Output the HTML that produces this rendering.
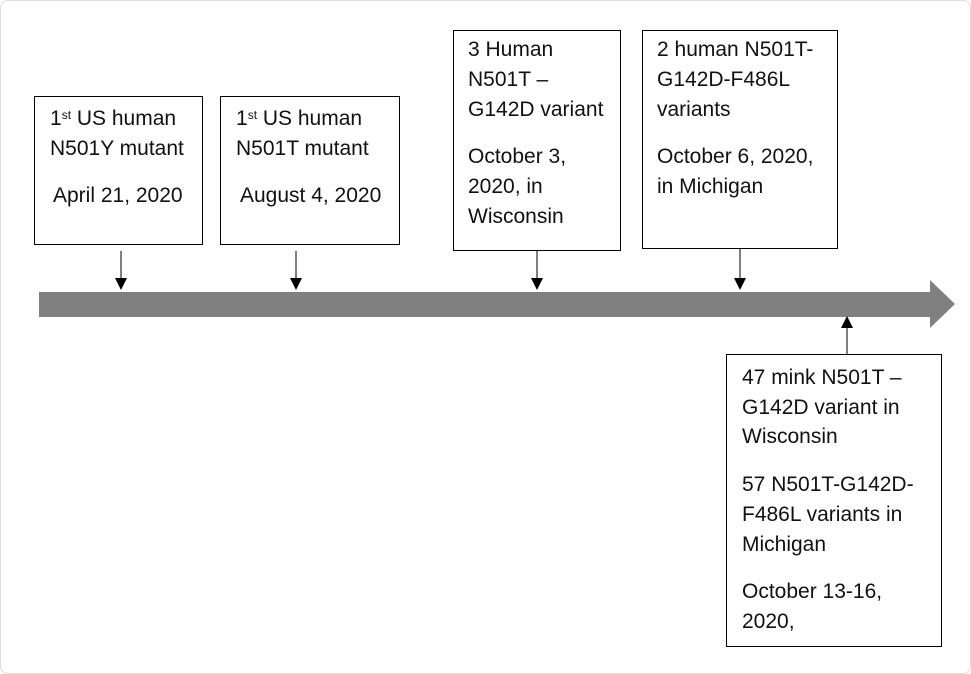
<!DOCTYPE html>
<html><head><style>
body{margin:0;width:971px;height:674px;background:#fff;position:relative;overflow:hidden;font-family:"Liberation Sans",sans-serif;}
.frame{position:absolute;left:0;top:0;width:969px;height:672px;border:1px solid #ddd;border-radius:8px;}
.box{position:absolute;border:1.5px solid #000;box-sizing:border-box;background:#fff;}
.t{position:absolute;font-size:21px;color:#111;white-space:nowrap;line-height:22px;}
sup{font-size:12px;vertical-align:top;position:relative;top:-4px;}
</style></head><body>
<div class="frame"></div>
<svg width="971" height="674" style="position:absolute;left:0;top:0">
<polygon points="39,292 930,292 930,280 955,304 930,328 930,317 39,317" fill="#808080"/>
<g stroke="#000" stroke-width="1">
<line x1="121" y1="251" x2="121" y2="280"/><line x1="296" y1="251" x2="296" y2="280"/>
<line x1="537" y1="250" x2="537" y2="280"/><line x1="740" y1="248" x2="740" y2="280"/>
<line x1="847" y1="354" x2="847" y2="326"/>
</g>
<g fill="#000">
<path d="M115,278 L127,278 L121,290z"/><path d="M290,278 L302,278 L296,290z"/>
<path d="M531,278 L543,278 L537,290z"/><path d="M734,278 L746,278 L740,290z"/>
<path d="M841,328 L853,328 L847,316z"/>
</g>
</svg>
<div class="box" style="left:34px;top:96px;width:169px;height:149px"></div>
<div class="t" style="left:50px;top:108px">1<sup>st</sup> US human</div>
<div class="t" style="left:50px;top:138px">N501Y mutant</div>
<div class="t" style="left:53px;top:185px">April 21, 2020</div>
<div class="box" style="left:220px;top:96px;width:180px;height:149px"></div>
<div class="t" style="left:236px;top:108px">1<sup>st</sup> US human</div>
<div class="t" style="left:236px;top:138px">N501T mutant</div>
<div class="t" style="left:240px;top:185px">August 4, 2020</div>
<div class="box" style="left:453px;top:30px;width:168px;height:221px"></div>
<div class="t" style="left:468px;top:39px">3 Human</div>
<div class="t" style="left:468px;top:69px">N501T –</div>
<div class="t" style="left:468px;top:99px">G142D variant</div>
<div class="t" style="left:468px;top:146px">October 3,</div>
<div class="t" style="left:468px;top:176px">2020, in</div>
<div class="t" style="left:468px;top:206px">Wisconsin</div>
<div class="box" style="left:642px;top:30px;width:196px;height:219px"></div>
<div class="t" style="left:657px;top:39px">2 human N501T-</div>
<div class="t" style="left:657px;top:69px">G142D-F486L</div>
<div class="t" style="left:657px;top:99px">variants</div>
<div class="t" style="left:657px;top:146px">October 6, 2020,</div>
<div class="t" style="left:657px;top:176px">in Michigan</div>
<div class="box" style="left:726px;top:354px;width:216px;height:293px"></div>
<div class="t" style="left:742px;top:367px">47 mink N501T –</div>
<div class="t" style="left:742px;top:397px">G142D variant in</div>
<div class="t" style="left:742px;top:426px">Wisconsin</div>
<div class="t" style="left:742px;top:474px">57 N501T-G142D-</div>
<div class="t" style="left:742px;top:504px">F486L variants in</div>
<div class="t" style="left:742px;top:534px">Michigan</div>
<div class="t" style="left:742px;top:581px">October 13-16,</div>
<div class="t" style="left:742px;top:611px">2020,</div>
</body></html>
